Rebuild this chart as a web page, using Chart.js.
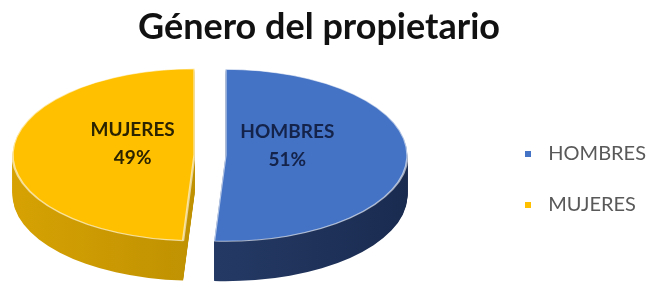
<!DOCTYPE html>
<html>
<head>
<meta charset="utf-8">
<script src="https://cdn.jsdelivr.net/npm/chart.js@4/dist/chart.umd.min.js"></script>
<style>
  html, body { margin: 0; padding: 0; background: #fff; }
  #wrap { width: 647px; height: 282px; }
</style>
</head>
<body>
<div id="wrap"><canvas id="chart"></canvas></div>
<script>
const categories = ['HOMBRES', 'MUJERES']
const shares = [51, 49]
const topColors = ['#4472C4', '#FFC000']
const sideColors = [['#2d4777', '#1a2b50'], ['#d6a203', '#a98000']]
const labelColors = ['#14234a', '#2b2300']

// where the tilted pie sits on screen
const PIE = { cx: 210, cy: 155, a: 182, b: 86, depth: 40, explode: 15.5 }
const LABEL_R = 0.34
const LABEL_LIFT = 10

Chart.defaults.font.family = 'Lato, "Open Sans", sans-serif'

// small square used as the legend marker
const marker = (color) => {
  const c = document.createElement('canvas')
  c.width = 6
  c.height = 6
  const g = c.getContext('2d')
  g.fillStyle = color
  g.fillRect(0, 0, 6, 6)
  return c
}

const pie3d = {
  id: 'pie3d',
  beforeDatasetsDraw(chart) {
    const ctx = chart.ctx
    const arcs = chart.getDatasetMeta(0).data
    if (!arcs.length) return
    const R = arcs[0].outerRadius
    const sx = PIE.a / R
    const sy = PIE.b / R

    const drawArc = (arc, dy, opts) => {
      const mid = (arc.startAngle + arc.endAngle) / 2
      ctx.save()
      ctx.translate(
        PIE.cx + Math.cos(mid) * PIE.explode,
        PIE.cy + dy + Math.sin(mid) * PIE.explode * PIE.b / PIE.a
      )
      ctx.scale(sx, sy)
      ctx.translate(-arc.x, -arc.y)
      const saved = arc.options
      arc.options = Object.assign({}, saved, opts(arc))
      arc.draw(ctx)
      arc.options = saved
      ctx.restore()
    }

    // side walls: stack of shifted copies
    for (let dy = PIE.depth; dy >= 1; dy--) {
      arcs.forEach((arc, i) => {
        drawArc(arc, dy, (a) => {
          const grad = ctx.createLinearGradient(a.x - R, 0, a.x + R, 0)
          grad.addColorStop(0, sideColors[i][0])
          grad.addColorStop(1, sideColors[i][1])
          return { backgroundColor: grad, borderWidth: 0 }
        })
      })
    }

    // top faces
    arcs.forEach((arc, i) => {
      drawArc(arc, 0, () => ({
        backgroundColor: topColors[i],
        borderColor: 'rgba(255,255,255,0.6)',
        borderWidth: 1.2
      }))
    })
    return false
  },
  afterDraw(chart) {
    const ctx = chart.ctx
    const arcs = chart.getDatasetMeta(0).data
    ctx.save()
    ctx.textAlign = 'center'
    ctx.textBaseline = 'middle'
    ctx.font = 'bold 19px Lato, "Open Sans", sans-serif'
    arcs.forEach((arc, i) => {
      const mid = (arc.startAngle + arc.endAngle) / 2
      const x = PIE.cx + Math.cos(mid) * (PIE.explode + LABEL_R * PIE.a)
      const y = PIE.cy + Math.sin(mid) * (PIE.explode * PIE.b / PIE.a + LABEL_R * PIE.b) - LABEL_LIFT
      ctx.fillStyle = labelColors[i]
      ctx.fillText(categories[i], x, y - 14)
      ctx.fillText(shares[i] + '%', x, y + 14)
    })
    ctx.restore()
  }
}

new Chart(document.getElementById('chart'), {
  type: 'pie',
  data: {
    labels: categories,
    datasets: [{
      data: shares,
      backgroundColor: topColors,
      borderWidth: 0,
      hoverOffset: 0
    }]
  },
  options: {
    responsive: true,
    maintainAspectRatio: false,
    animation: false,
    events: [],
    layout: { padding: { left: -18, right: -9, bottom: 36 } },
    plugins: {
      title: {
        display: true,
        text: 'Género del propietario',
        color: '#111',
        font: { size: 36, weight: 'bold' },
        padding: { top: 6, bottom: 10 }
      },
      legend: {
        position: 'right',
        align: 'end',
        labels: {
          color: '#595959',
          font: { size: 20 },
          usePointStyle: true,
          pointStyleWidth: 20,
          padding: 31,
          generateLabels(chart) {
            const items = Chart.overrides.pie.plugins.legend.labels.generateLabels(chart)
            items.forEach((it, i) => { it.pointStyle = marker(topColors[i]) })
            return items
          }
        }
      },
      tooltip: { enabled: false }
    }
  },
  plugins: [pie3d]
})
</script>
</body>
</html>
